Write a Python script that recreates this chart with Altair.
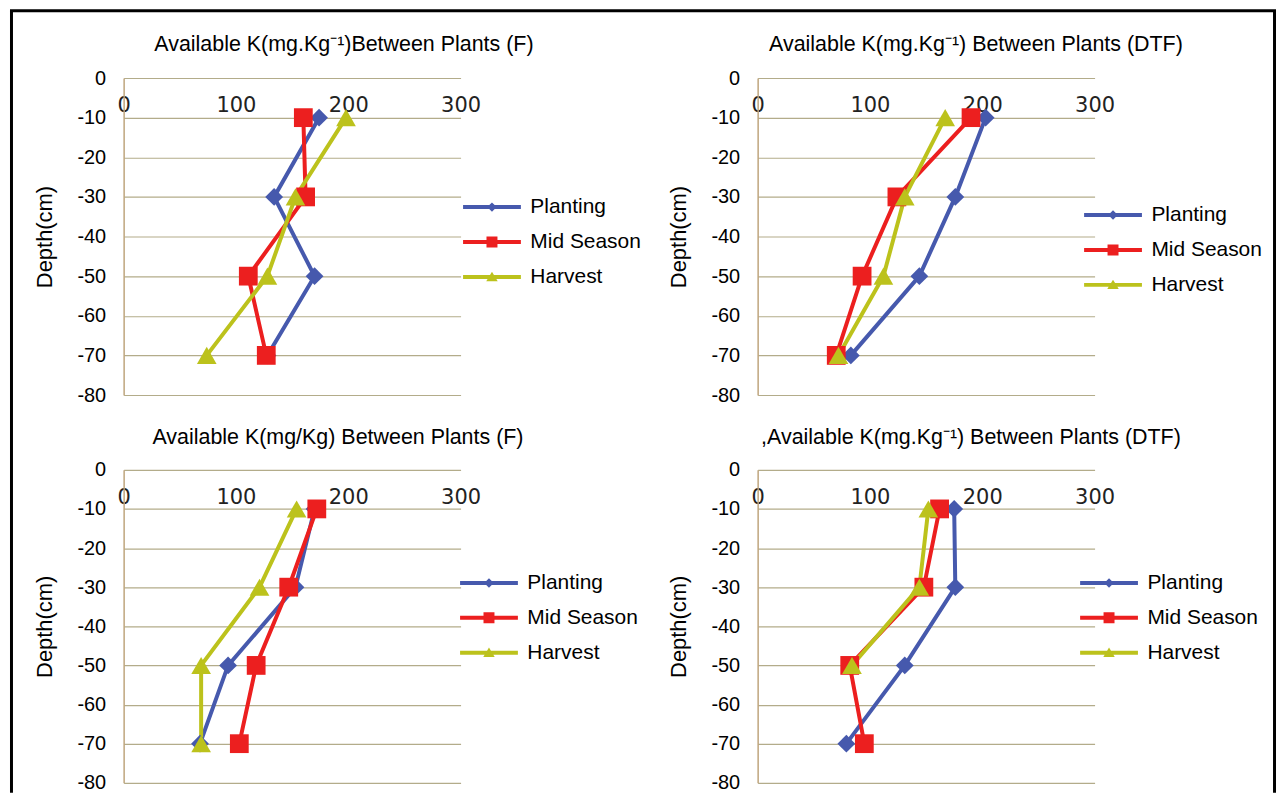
import altair as alt
import pandas as pd

# ---------------- data ----------------
series = ["Planting", "Mid Season", "Harvest"]
depth = [-10, -30, -50, -70]

# Top-left: Available K between plants (F)
planting_1 = [174, 134, 170, 128]
mid_1 = [160, 162, 111, 127]
harvest_1 = [198, 153, 128, 74]

# Top-right: Available K between plants (DTF)
planting_2 = [203, 176, 144, 83]
mid_2 = [190, 124, 93, 70]
harvest_2 = [167, 131, 112, 72]

# Bottom-left: Available K (mg/Kg) between plants (F)
planting_3 = [170, 153, 93, 68]
mid_3 = [172, 147, 118, 103]
harvest_3 = [154, 121, 69, 69]

# Bottom-right: Available K between plants (DTF)
planting_4 = [175, 176, 131, 79]
mid_4 = [162, 148, 82, 95]
harvest_4 = [152, 144, 84, None]

titles = [
    "Available K(mg.Kg\u207b\u00b9)Between Plants (F)",
    "Available K(mg.Kg\u207b\u00b9) Between Plants (DTF)",
    "Available K(mg/Kg) Between Plants (F)",
    ",Available K(mg.Kg\u207b\u00b9) Between Plants (DTF)",
]

x_ticks = [0, 100, 200, 300]
y_ticks = [0, -10, -20, -30, -40, -50, -60, -70, -80]

colors = ["#4659ad", "#ec1f1f", "#bcc21c"]
shapes = ["diamond", "square", "triangle-up"]
sizes = [210, 320, 390]

FONT = "Liberation Sans"

# legend symbols: a line with a small marker in the middle (unit = 5px)
LINE = "M-5.8,-0.4H5.8V0.4H-5.8Z"
leg_paths = {
    "Planting": LINE + " M0,-0.95L0.95,0L0,0.95L-0.95,0Z",
    "Mid Season": LINE + " M-1.1,-1.1H1.1V1.1H-1.1Z",
    "Harvest": LINE + " M0,-1.05L1.15,0.85H-1.15Z",
}
shape_expr = (
    "datum.value === 'Planting' ? '" + leg_paths["Planting"] + "' : "
    "datum.value === 'Mid Season' ? '" + leg_paths["Mid Season"] + "' : '"
    + leg_paths["Harvest"] + "'"
)

# helper scales use the reversed domain so their (hidden) legends are not
# merged into the colour legend
rev_series = series[::-1]


def make_df(p, m, h):
    rows = []
    for name, vals in zip(series, [p, m, h]):
        for d, v in zip(depth, vals):
            if v is not None:
                rows.append({"series": name, "depth": d, "value": v})
    return pd.DataFrame(rows)


W = 338


def panel(df, title, H, legend_x, legend_y, title_x, title_y, frame=False):
    legend = alt.Legend(
        orient="none",
        legendX=legend_x,
        legendY=legend_y,
        title=None,
        labelFont=FONT,
        labelFontSize=21,
        labelColor="black",
        symbolSize=100,
        symbolType=alt.ExprRef(expr=shape_expr),
        symbolStrokeWidth=0,
        symbolOpacity=1,
        labelOffset=28,
        rowPadding=13,
    )
    x = alt.X(
        "value:Q",
        scale=alt.Scale(domain=[0, 300], nice=False, zero=False),
        axis=alt.Axis(
            values=x_ticks,
            orient="bottom",
            offset=-H,
            domain=False,
            ticks=False,
            grid=False,
            labelFont="DejaVu Sans",
            labelFontSize=21,
            labelColor="#222222",
            labelPadding=17,
            labelFlush=False,
            labelOverlap=False,
            title=None,
        ),
    )
    y = alt.Y(
        "depth:Q",
        scale=alt.Scale(domain=[-80, 0], nice=False),
        axis=alt.Axis(
            values=y_ticks,
            labelExpr="'' + datum.value",
            title="Depth(cm)",
            titleFont=FONT,
            titleFontSize=22,
            titleFontWeight="normal",
            titleColor="black",
            titlePadding=20,
            labelFont=FONT,
            labelFontSize=20,
            labelColor="black",
            labelPadding=18,
            ticks=False,
            domainColor="#bfa57d",
            domainWidth=1.5,
            gridColor="#b3ac8a",
            gridWidth=1.2,
            gridOpacity=1,
        ),
    )
    base = alt.Chart(df)
    lines = base.mark_line(strokeWidth=4).encode(
        x=x,
        y=y,
        stroke=alt.Stroke("series:N", scale=alt.Scale(domain=rev_series, range=colors[::-1]),
                          legend=None),
        order=alt.Order("depth:Q", sort="descending"),
    )
    points = base.mark_point(filled=True, opacity=1).encode(
        x=x,
        y=y,
        color=alt.Color("series:N", scale=alt.Scale(domain=series, range=colors), legend=legend),
        shape=alt.Shape("series:N", scale=alt.Scale(domain=rev_series, range=shapes[::-1]),
                        legend=None),
        size=alt.Size("series:N", scale=alt.Scale(domain=rev_series, range=sizes[::-1]),
                      legend=None),
    )
    ttl = alt.Chart(pd.DataFrame({"t": [title]})).mark_text(
        font=FONT, fontSize=21.5, color="black", align="center", baseline="middle"
    ).encode(text="t:N", x=alt.value(title_x), y=alt.value(title_y))
    layers = [lines, points, ttl]
    if frame:
        fr = alt.Chart(pd.DataFrame({"a": [0]}))
        left = fr.mark_rule(color="black", strokeWidth=3).encode(
            x=alt.value(-112.5), y=alt.value(-67.5), y2=alt.value(717))
        top = fr.mark_rule(color="black", strokeWidth=3).encode(
            x=alt.value(-114), x2=alt.value(1156), y=alt.value(-67.5))
        right = fr.mark_rule(color="black", strokeWidth=3).encode(
            x=alt.value(1154.5), y=alt.value(-67.5), y2=alt.value(717))
        layers = [left, top, right] + layers
    return alt.layer(*layers).properties(width=W, height=H)


p1 = panel(make_df(planting_1, mid_1, harvest_1), titles[0], 318, 359, 119, 221, -33, frame=True)
p2 = panel(make_df(planting_2, mid_2, harvest_2), titles[1], 318, 346, 127, 219, -33)
p3 = panel(make_df(planting_3, mid_3, harvest_3), titles[2], 314, 356, 103, 215, -32)
p4 = panel(make_df(planting_4, mid_4, harvest_4), titles[3], 314, 342, 103, 214, -32)

chart = (
    alt.concat(p1, p2, p3, p4, columns=2, spacing={"row": 75, "column": 298}, bounds="flush")
    .resolve_scale(color="independent", stroke="independent", shape="independent",
                   size="independent", x="independent", y="independent")
    .resolve_legend(color="independent")
    .properties(padding=0, background="white")
    .configure_view(stroke=None)
)

chart.save("out.html", embed_options={"renderer": "svg", "actions": False})
